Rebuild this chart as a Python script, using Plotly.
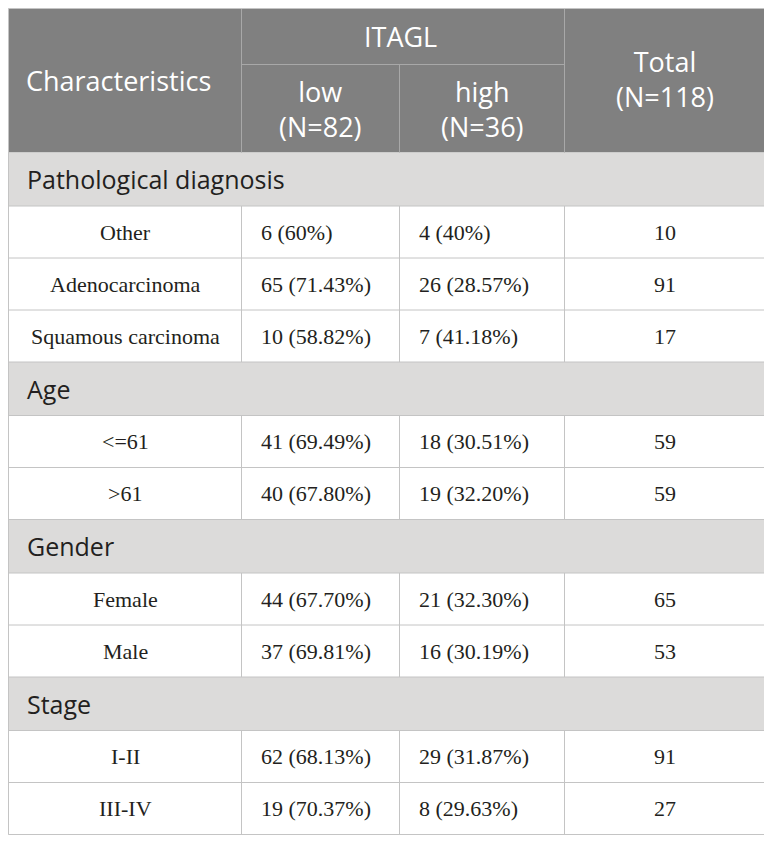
import plotly.graph_objects as go

# table content
groups = ["Pathological diagnosis", "Age", "Gender", "Stage"]
group_labels = [
    ["Other", "Adenocarcinoma", "Squamous carcinoma"],
    ["<=61", ">61"],
    ["Female", "Male"],
    ["I-II", "III-IV"],
]
low_n = [6, 65, 10, 41, 40, 44, 37, 62, 19]
low_pct = ["60%", "71.43%", "58.82%", "69.49%", "67.80%", "67.70%", "69.81%", "68.13%", "70.37%"]
high_n = [4, 26, 7, 18, 19, 21, 16, 29, 8]
high_pct = ["40%", "28.57%", "41.18%", "30.51%", "32.20%", "32.30%", "30.19%", "31.87%", "29.63%"]
total_n = [10, 91, 17, 59, 59, 65, 53, 91, 27]

header_first = "Characteristics"
header_group = "ITAGL"
header_sub = [["low", "(N=82)"], ["high", "(N=36)"]]
header_total = ["Total", "(N=118)"]

# geometry / style (page body adds an 8px margin, so the table starts at 0)
W, H = 764, 836
X0, Y0 = 0, 0
COL_W = [233, 158, 165, 200]
HEAD_TOP = 56
HEAD_SUB = 88
SEC_H = 53.5
ROW_H = 52
PAD = 17

HEAD_FILL = "#808080"
HEAD_LINE = "#a8a8a8"
SEC_FILL = "#dcdbda"
GRID = "#c4c4c4"
TXT = "#231f20"
SANS = "Open Sans"
SERIF = "Liberation Serif"

edges = [X0]
for w in COL_W:
    edges.append(edges[-1] + w)
x_right = edges[-1]

fig = go.Figure()


def rect(x0, y0, x1, y1, fill):
    fig.add_shape(type="rect", x0=x0, y0=y0, x1=x1, y1=y1, xref="x", yref="y",
                  fillcolor=fill, line=dict(width=0), layer="below")


def line(x0, y0, x1, y1, color):
    fig.add_shape(type="line", x0=x0, y0=y0, x1=x1, y1=y1, xref="x", yref="y",
                  line=dict(color=color, width=1))


def text(x, y, s, anchor="center", font=SERIF, size=22, color=TXT):
    fig.add_annotation(x=x, y=y, text=s, xref="x", yref="y", showarrow=False,
                       xanchor=anchor, yanchor="middle", align=anchor if anchor != "center" else "center",
                       font=dict(family=font, size=size, color=color))


# header
y_head_end = Y0 + HEAD_TOP + HEAD_SUB
rect(X0, Y0, x_right, y_head_end, HEAD_FILL)
line(edges[1], Y0, edges[1], y_head_end, HEAD_LINE)
line(edges[3], Y0, edges[3], y_head_end, HEAD_LINE)
line(edges[2], Y0 + HEAD_TOP, edges[2], y_head_end, HEAD_LINE)
line(edges[1], Y0 + HEAD_TOP, edges[3], Y0 + HEAD_TOP, HEAD_LINE)

text(X0 + 15, (Y0 + y_head_end) / 2, header_first, "left", SANS, 27, "white")
text((edges[1] + edges[3]) / 2 - 3, Y0 + HEAD_TOP / 2, header_group, "center", SANS, 27, "white")
sub_mid = Y0 + HEAD_TOP + HEAD_SUB / 2
for i, (a, b) in enumerate(header_sub):
    cx = (edges[i + 1] + edges[i + 2]) / 2
    text(cx, sub_mid, a + "<br>" + b, "center", SANS, 27, "white")
cx = (edges[3] + edges[4]) / 2
text(cx, (Y0 + y_head_end) / 2 - 2, header_total[0] + "<br>" + header_total[1], "center", SANS, 27, "white")

# body
y = y_head_end
k = 0
hlines = []
for g, labs in zip(groups, group_labels):
    rect(X0, y, x_right, y + SEC_H, SEC_FILL)
    text(X0 + 16, y + SEC_H / 2, g, "left", SANS, 25, TXT)
    y += SEC_H
    hlines.append(y)
    for lab in labs:
        yc = y + ROW_H / 2
        text((edges[0] + edges[1]) / 2, yc, lab)
        text(edges[1] + PAD, yc, f"{low_n[k]} ({low_pct[k]})", "left")
        text(edges[2] + PAD, yc, f"{high_n[k]} ({high_pct[k]})", "left")
        text((edges[3] + edges[4]) / 2, yc, str(total_n[k]))
        for c in (1, 2, 3):
            line(edges[c], y, edges[c], y + ROW_H, GRID)
        y += ROW_H
        hlines.append(y)
        k += 1

for hy in hlines:
    line(X0, hy, x_right, hy, GRID)

# outer border
fig.add_shape(type="rect", x0=X0, y0=Y0, x1=x_right, y1=y, xref="x", yref="y",
              line=dict(color=GRID, width=1), fillcolor="rgba(0,0,0,0)")

fig.update_xaxes(range=[-0.5, W - 0.5], visible=False, fixedrange=True)
fig.update_yaxes(range=[H - 0.5, -0.5], visible=False, fixedrange=True)
fig.update_layout(width=W, height=H, margin=dict(l=0, r=0, t=0, b=0),
                  plot_bgcolor="white", paper_bgcolor="white", showlegend=False)

fig.write_html("out.html")
